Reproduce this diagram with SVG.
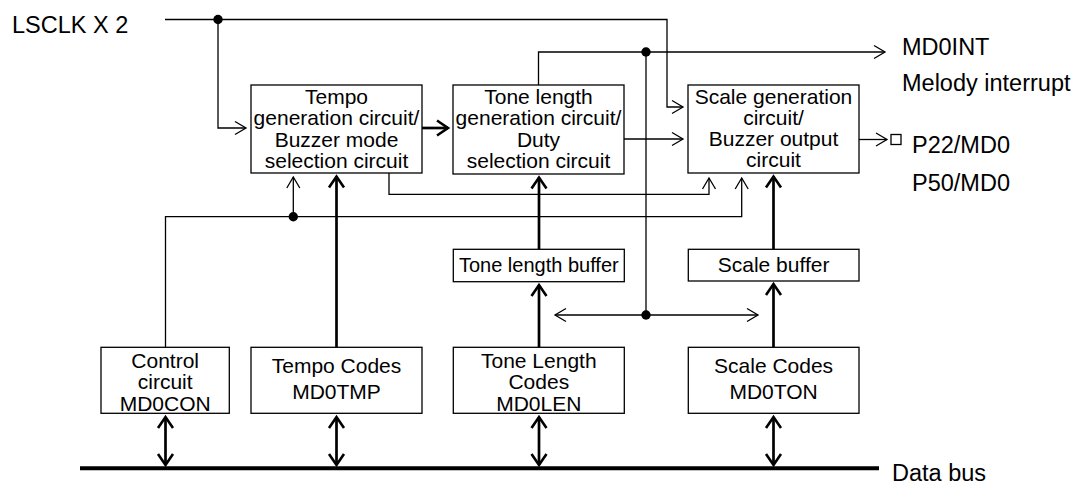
<svg xmlns="http://www.w3.org/2000/svg" width="1078" height="484" viewBox="0 0 1078 484">
<style>
.box{fill:#fff;stroke:#000;stroke-width:1.3}
.t{font-family:"Liberation Sans",Arial,sans-serif;font-size:21px;text-anchor:middle;fill:#000}
.lbl{font-family:"Liberation Sans",Arial,sans-serif;font-size:23.5px;fill:#000}
.w{fill:none;stroke:#000;stroke-width:1.3}
.b{fill:none;stroke:#000;stroke-width:2.7}
.bus{fill:none;stroke:#000;stroke-width:4}
</style>
<defs>
<marker id="ah" markerUnits="userSpaceOnUse" markerWidth="24" markerHeight="24" refX="0" refY="0" orient="auto-start-reverse" overflow="visible">
<path d="M-11,-6.5 L0,0 L-11,6.5" fill="none" stroke="#000" stroke-width="1.3"/>
</marker>
<marker id="ahb" markerUnits="userSpaceOnUse" markerWidth="24" markerHeight="24" refX="0" refY="0" orient="auto-start-reverse" overflow="visible">
<path d="M-11,-7.5 L0,0 L-11,7.5" fill="none" stroke="#000" stroke-width="2.6"/>
</marker>
</defs>
<rect width="1078" height="484" fill="#fff"/>

<g id="connectors">
<path class="w" d="M165,19.5 H667 V107 H683" marker-end="url(#ah)"/>
<path class="w" d="M218,19.5 V128 H246" marker-end="url(#ah)"/>
<path class="b" d="M422,128 H448" marker-end="url(#ahb)"/>
<path class="w" d="M624,139 H683" marker-end="url(#ah)"/>
<path class="w" d="M538.5,85 V52 H885" marker-end="url(#ah)"/>
<path class="w" d="M646,52 V315"/>
<path class="w" d="M555,315 H758" marker-start="url(#ah)" marker-end="url(#ah)"/>
<path class="w" d="M859,139.5 H887" marker-end="url(#ah)"/>
<rect x="891" y="134.5" width="10" height="10" class="w"/>
<path class="w" d="M389,173 V194.3 H709 V178" marker-end="url(#ah)"/>
<path class="w" d="M165.5,347 V216.7 H741.7 V178" marker-end="url(#ah)"/>
<path class="w" d="M293.3,216.7 V177" marker-end="url(#ah)"/>
<path class="b" d="M336.5,347 V176.5" marker-end="url(#ahb)"/>
<path class="b" d="M539,249 V177.5" marker-end="url(#ahb)"/>
<path class="b" d="M539,347 V285" marker-end="url(#ahb)"/>
<path class="b" d="M773.5,249 V176.5" marker-end="url(#ahb)"/>
<path class="b" d="M773.5,347 V284" marker-end="url(#ahb)"/>
<path class="b" d="M165.5,417 V465" marker-start="url(#ahb)" marker-end="url(#ahb)"/>
<path class="b" d="M336.5,417 V465" marker-start="url(#ahb)" marker-end="url(#ahb)"/>
<path class="b" d="M539,417 V465" marker-start="url(#ahb)" marker-end="url(#ahb)"/>
<path class="b" d="M773.5,417 V465" marker-start="url(#ahb)" marker-end="url(#ahb)"/>
<path class="bus" d="M80,468.3 H879"/>
<circle cx="218" cy="19.5" r="4.7"/>
<circle cx="646" cy="52" r="4.7"/>
<circle cx="293.3" cy="216.7" r="4.7"/>
<circle cx="646" cy="315" r="4.7"/>
</g>

<g id="tempo-gen">
<rect class="box" x="251" y="85" width="171" height="88"/>
<text class="t" x="336.5" y="104">Tempo</text>
<text class="t" x="336.5" y="125">generation circuit/</text>
<text class="t" x="336.5" y="146.5">Buzzer mode</text>
<text class="t" x="336.5" y="168">selection circuit</text>
</g>
<g id="tone-gen">
<rect class="box" x="453" y="85" width="171" height="89"/>
<text class="t" x="538.5" y="104">Tone length</text>
<text class="t" x="538.5" y="125">generation circuit/</text>
<text class="t" x="538.5" y="146.5">Duty</text>
<text class="t" x="538.5" y="168">selection circuit</text>
</g>
<g id="scale-gen">
<rect class="box" x="688" y="85" width="171" height="88"/>
<text class="t" x="773.5" y="103.5">Scale generation</text>
<text class="t" x="773.5" y="124.5">circuit/</text>
<text class="t" x="773.5" y="145.5">Buzzer output</text>
<text class="t" x="773.5" y="166.5">circuit</text>
</g>
<g id="tone-buffer">
<rect class="box" x="453.3" y="249.3" width="171" height="32.4"/>
<text class="t" x="538.8" y="272" style="font-size:20px">Tone length buffer</text>
</g>
<g id="scale-buffer">
<rect class="box" x="688.3" y="249.3" width="170.7" height="31.7"/>
<text class="t" x="773.6" y="272">Scale buffer</text>
</g>
<g id="control">
<rect class="box" x="101" y="347.3" width="128.3" height="66"/>
<text class="t" x="165.2" y="368">Control</text>
<text class="t" x="165.2" y="389.2">circuit</text>
<text class="t" x="165.2" y="410.5">MD0CON</text>
</g>
<g id="tempo-codes">
<rect class="box" x="251" y="347.3" width="171" height="66"/>
<text class="t" x="336.5" y="373.3">Tempo Codes</text>
<text class="t" x="336.5" y="399">MD0TMP</text>
</g>
<g id="tone-codes">
<rect class="box" x="453.3" y="347.3" width="171" height="66"/>
<text class="t" x="538.8" y="368">Tone Length</text>
<text class="t" x="538.8" y="389.2">Codes</text>
<text class="t" x="538.8" y="410.5">MD0LEN</text>
</g>
<g id="scale-codes">
<rect class="box" x="688.3" y="347.3" width="170.7" height="66"/>
<text class="t" x="773.6" y="373.3">Scale Codes</text>
<text class="t" x="773.6" y="399">MD0TON</text>
</g>
<g id="labels">
<text class="lbl" x="12" y="33">LSCLK X 2</text>
<text class="lbl" x="902" y="55">MD0INT</text>
<text class="lbl" x="902" y="91">Melody interrupt</text>
<text class="lbl" x="912" y="153">P22/MD0</text>
<text class="lbl" x="912" y="191">P50/MD0</text>
<text class="lbl" x="892" y="480.5">Data bus</text>
</g>
</svg>
